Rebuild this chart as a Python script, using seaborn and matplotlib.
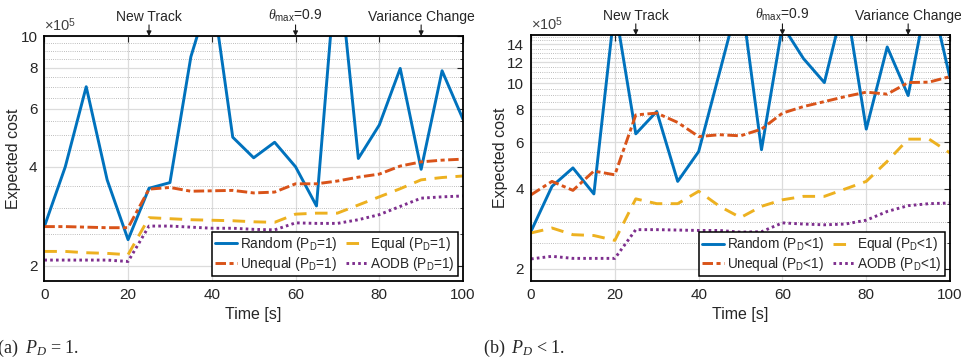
import numpy as np
import pandas as pd
import matplotlib
matplotlib.use("Agg")
import matplotlib.pyplot as plt
from matplotlib.ticker import FixedLocator, FixedFormatter, NullFormatter
import seaborn as sns

# ---- data (expected cost in units of 1e5) ----
time = [0, 5, 10, 15, 20, 25, 30, 35, 40, 45, 50, 55, 60, 65, 70, 75, 80, 85, 90, 95, 100]

random_full = [2.63, 4.00, 7.01, 3.65, 2.40, 3.44, 3.58, 8.65, 14.0, 4.92, 4.26,
               4.75, 4.00, 3.04, 18.0, 4.24, 5.36, 7.97, 3.93, 7.84, 5.58]
unequal_full = [2.63, 2.63, 2.62, 2.61, 2.61, 3.42, 3.46, 3.37, 3.38, 3.39, 3.33,
                3.35, 3.55, 3.55, 3.62, 3.72, 3.80, 4.02, 4.14, 4.19, 4.22]
equal_full = [2.21, 2.21, 2.19, 2.18, 2.16, 2.80, 2.78, 2.76, 2.75, 2.74, 2.72,
              2.71, 2.87, 2.89, 2.89, 3.06, 3.24, 3.43, 3.65, 3.71, 3.75]
aodb_full = [2.08, 2.08, 2.08, 2.08, 2.06, 2.64, 2.64, 2.62, 2.60, 2.60, 2.58,
             2.57, 2.70, 2.69, 2.69, 2.76, 2.86, 3.03, 3.21, 3.24, 3.26]

random_part = [2.77, 4.09, 4.80, 3.83, 19.5, 6.45, 7.83, 4.27, 5.53, 11.0, 22.0,
               5.62, 16.5, 12.4, 10.06, 21.0, 6.72, 13.7, 8.99, 23.0, 10.45]
unequal_part = [3.80, 4.27, 3.95, 4.67, 4.52, 7.60, 7.72, 7.12, 6.30, 6.40, 6.34,
                6.72, 7.72, 8.17, 8.53, 8.91, 9.26, 9.10, 10.06, 10.10, 10.60]
equal_part = [2.73, 2.85, 2.69, 2.67, 2.56, 3.67, 3.52, 3.52, 3.92, 3.44, 3.12,
              3.44, 3.64, 3.75, 3.75, 4.00, 4.27, 5.08, 6.16, 6.16, 5.46]
aodb_part = [2.18, 2.23, 2.19, 2.19, 2.19, 2.81, 2.81, 2.80, 2.79, 2.79, 2.75,
             2.76, 2.98, 2.95, 2.93, 2.95, 3.05, 3.29, 3.46, 3.52, 3.54]

methods = ["Random", "Unequal", "Equal", "AODB"]
events = [(25, "New Track"), (60, r"$\theta_{\mathrm{max}}$=0.9"), (90, "Variance Change")]
xticks = [0, 20, 40, 60, 80, 100]
yticks_full = [2, 4, 6, 8, 10]
yticks_part = [2, 4, 6, 8, 10, 12, 14]

colors = {"Random": "#0072BD", "Unequal": "#D95319", "Equal": "#EDB120", "AODB": "#7E2F8E"}
dashes = {"Random": "", "Unequal": (3.6, 1.2, 1.4, 1.2), "Equal": (4.3, 2.9), "AODB": (0.9, 1.1)}

sns.set_theme(style="white")
plt.rcParams["font.family"] = ["Liberation Sans", "DejaVu Sans"]
plt.rcParams["mathtext.fontset"] = "custom"
plt.rcParams["mathtext.rm"] = "Liberation Sans"
plt.rcParams["mathtext.it"] = "Liberation Serif:italic"
plt.rcParams["text.color"] = "#262626"

fig = plt.figure(figsize=(9.62, 3.63), dpi=100)
ax_a = fig.add_axes([0.0461, 0.2267, 0.4352, 0.674])
ax_b = fig.add_axes([0.5520, 0.2259, 0.4356, 0.6777])


def long_frame(series):
    rows = []
    for name, vals in zip(methods, series):
        for t, v in zip(time, vals):
            rows.append({"Time": t, "Cost": v, "Method": name})
    return pd.DataFrame(rows)


def draw_panel(ax, series, tag, ylim, yticks):
    df = long_frame(series)
    sns.lineplot(data=df, x="Time", y="Cost", hue="Method", style="Method",
                 palette=colors, dashes=dashes, hue_order=methods, style_order=methods,
                 lw=2.1, legend=False, ax=ax, estimator=None)
    ax.set_yscale("log")
    ax.set_xlim(0, 100)
    ax.set_ylim(*ylim)
    ax.xaxis.set_major_locator(FixedLocator(xticks))
    ax.yaxis.set_major_locator(FixedLocator(yticks))
    ax.yaxis.set_major_formatter(FixedFormatter([str(v) for v in yticks]))
    minor = np.arange(2.0, ylim[1] + 0.01, 0.5)
    ax.yaxis.set_minor_locator(FixedLocator(list(minor)))
    ax.yaxis.set_minor_formatter(NullFormatter())
    ax.grid(True, which="major", color="#dcdcdc", lw=0.9, ls="-")
    ax.grid(True, which="minor", axis="y", color="#a8a8a8", lw=0.6, ls=(0, (1, 1.6)))
    ax.set_axisbelow(True)
    ax.tick_params(which="both", direction="in", top=True, right=True,
                   labelsize=11, colors="#262626", pad=5)
    ax.tick_params(which="major", length=4.5, width=0.8)
    ax.tick_params(which="minor", length=2.5, width=0.6)
    for s in ax.spines.values():
        s.set_color("#000000")
        s.set_linewidth(1.3)
    ax.set_xlabel("Time [s]", fontsize=11.5, color="#262626", labelpad=4)
    ax.set_ylabel("Expected cost", fontsize=11.5, color="#262626")
    ax.yaxis.set_label_coords(-0.056, 0.5)

    labels = [f"{m} (P$_\\mathregular{{D}}${tag})" for m in methods]
    leg = ax.legend(ax.get_lines()[:4], labels, loc="lower right", ncol=2,
                    fontsize=9.8, frameon=True, fancybox=False, edgecolor="#000000",
                    framealpha=1.0, borderpad=0.25, labelspacing=0.1,
                    handlelength=1.6, handletextpad=0.2, columnspacing=0.6,
                    borderaxespad=0.35)
    leg.get_frame().set_linewidth(1.1)

    ax.text(0.0, 1.008, r"$\times$10$^5$", transform=ax.transAxes, ha="left",
            va="bottom", fontsize=10.5, color="#404040")

    for t, lab in events:
        ax.annotate("", xy=(t, 1.0), xycoords=("data", "axes fraction"),
                    xytext=(0, 8), textcoords="offset points",
                    arrowprops=dict(arrowstyle="-|>", color="k", lw=0.8,
                                    mutation_scale=7, shrinkA=0, shrinkB=0))
        ax.annotate(lab, xy=(t, 1.0), xycoords=("data", "axes fraction"),
                    xytext=(0, 8.5), textcoords="offset points",
                    ha="center", va="bottom", fontsize=10, color="#262626",
                    annotation_clip=False)


draw_panel(ax_a, [random_full, unequal_full, equal_full, aodb_full], "=1", (1.8, 10.0), yticks_full)
draw_panel(ax_b, [random_part, unequal_part, equal_part, aodb_part], "<1", (1.8, 15.2), yticks_part)

fig.text(-0.002, 0.041, "(a) ", family="Liberation Serif", fontsize=13, va="center", ha="left")
fig.text(0.026, 0.041, "$P_D$ = 1.", family="Liberation Serif", fontsize=13, va="center", ha="left")
fig.text(0.5035, 0.041, "(b) ", family="Liberation Serif", fontsize=13, va="center", ha="left")
fig.text(0.5315, 0.041, "$P_D$ < 1.", family="Liberation Serif", fontsize=13, va="center", ha="left")

fig.savefig("out.png", dpi=100)
